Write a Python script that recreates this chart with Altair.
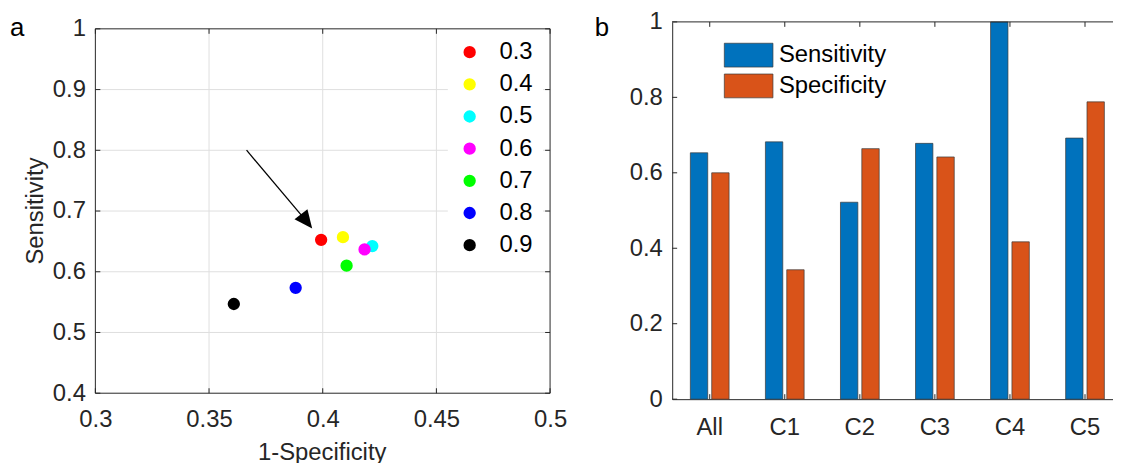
import altair as alt
import pandas as pd

# ---------------- data ----------------
thresholds = ["0.3", "0.4", "0.5", "0.6", "0.7", "0.8", "0.9"]
one_minus_specificity = [0.3993, 0.4089, 0.4218, 0.4184, 0.4105, 0.3881, 0.3609]
sensitivity_points = [0.6525, 0.6569, 0.6422, 0.6368, 0.6100, 0.5735, 0.5469]
threshold_colors = ["#ff0000", "#ffff00", "#00ffff", "#ff00ff", "#00ff00", "#0000ff", "#000000"]

arrow_x = [0.3665, 0.3929]
arrow_y = [0.8002, 0.6829]

x_ticks_a = [0.3, 0.35, 0.4, 0.45, 0.5]
y_ticks_a = [0.4, 0.5, 0.6, 0.7, 0.8, 0.9, 1.0]

groups = ["All", "C1", "C2", "C3", "C4", "C5"]
series = ["Sensitivity", "Specificity"]
sensitivity_bars = [0.653, 0.682, 0.522, 0.678, 1.0, 0.692]
specificity_bars = [0.600, 0.343, 0.664, 0.642, 0.417, 0.788]
series_colors = ["#0072BD", "#D95319"]
y_ticks_b = [0, 0.2, 0.4, 0.6, 0.8, 1]

# ---------------- style ----------------
FONT = "Liberation Sans"
TXT = "#262626"
GRID = "#dfdfdf"
FS = 24
TICK = 5

# ================= panel a =================
WA, HA = 458, 380
X0, X1 = x_ticks_a[0], x_ticks_a[-1]
Y0, Y1 = y_ticks_a[0], y_ticks_a[-1]
ya_domain = [Y0 - 6 / 612.2, Y1 + 7 / 612.2]

xs = alt.Scale(domain=[X0, X1], nice=False, zero=False)
ys = alt.Scale(domain=ya_domain, nice=False, zero=False)

AX_A = alt.Axis(values=x_ticks_a, format="~g", labelFlush=False, labelOverlap=False,
                labelPadding=9, title="1-Specificity", titleX=228, titleY=61,
                titleAlign="center", titleBaseline="alphabetic")
AY_A = alt.Axis(values=y_ticks_a, format="~g", labelFlush=False, labelOverlap=False,
                labelPadding=10, title="Sensitivity", titleX=-53, titleY=190,
                titleAngle=270, titleAlign="center", titleBaseline="alphabetic")


def XA(f):
    return alt.X(f, type="quantitative", scale=xs, axis=AX_A)


def YA(f):
    return alt.Y(f, type="quantitative", scale=ys, axis=AY_A)


vgrid = pd.DataFrame({"x": x_ticks_a[1:-1], "y0": Y0, "y1": Y1})
hgrid = pd.DataFrame({"y": y_ticks_a[1:-1], "x0": X0, "x1": X1})
vborder = pd.DataFrame({"x": [X0, X1], "y0": Y0, "y1": Y1})
hborder = pd.DataFrame({"y": [Y0, Y1], "x0": X0, "x1": X1})

grid_v = alt.Chart(vgrid).mark_rule(color=GRID, strokeWidth=1).encode(
    x=XA("x"), y=YA("y0"), y2="y1")
grid_h = alt.Chart(hgrid).mark_rule(color=GRID, strokeWidth=1).encode(
    y=YA("y"), x=XA("x0"), x2="x1")
border_v = alt.Chart(vborder).mark_rule(color=TXT, strokeWidth=1).encode(
    x=XA("x"), y=YA("y0"), y2="y1")
border_h = alt.Chart(hborder).mark_rule(color=TXT, strokeWidth=1).encode(
    y=YA("y"), x=XA("x0"), x2="x1")

tb = pd.DataFrame({"x": x_ticks_a, "y": Y0})
tt = pd.DataFrame({"x": x_ticks_a, "y": Y1})
tl = pd.DataFrame({"y": y_ticks_a, "x": X0})
tr = pd.DataFrame({"y": y_ticks_a, "x": X1})
ticks_b = alt.Chart(tb).mark_rule(color=TXT, y2Offset=-TICK).encode(x=XA("x"), y=YA("y"), y2="y")
ticks_t = alt.Chart(tt).mark_rule(color=TXT, y2Offset=TICK).encode(x=XA("x"), y=YA("y"), y2="y")
ticks_l = alt.Chart(tl).mark_rule(color=TXT, x2Offset=TICK).encode(y=YA("y"), x=XA("x"), x2="x")
ticks_r = alt.Chart(tr).mark_rule(color=TXT, x2Offset=-TICK).encode(y=YA("y"), x=XA("x"), x2="x")

arrow_df = pd.DataFrame({"x": arrow_x, "y": arrow_y, "o": [0, 1]})
arrow_line = alt.Chart(arrow_df).mark_line(color="black", strokeWidth=1.3).encode(
    x=XA("x"), y=YA("y"), order="o:Q")
head_df = pd.DataFrame({"x": arrow_x[-1:], "y": arrow_y[-1:]})
arrow_head = alt.Chart(head_df).mark_point(
    shape="M0,-1L0.9,1L-0.9,1Z", filled=True, size=338, angle=142,
    color="black", opacity=1, strokeWidth=0).encode(x=XA("x"), y=YA("y"))

pts = pd.DataFrame({"t": thresholds, "x": one_minus_specificity, "y": sensitivity_points})
points = alt.Chart(pts).mark_circle(size=154, opacity=1, strokeWidth=0).encode(
    x=XA("x"),
    y=YA("y"),
    color=alt.Color("t:N", scale=alt.Scale(domain=thresholds, range=threshold_colors),
                    legend=alt.Legend(orient="none", legendX=355, legendY=8.5, title=None,
                                      fillColor="white", padding=10, symbolType="circle",
                                      symbolSize=154, symbolStrokeWidth=0, symbolOpacity=1,
                                      labelOffset=18, rowPadding=8.4)),
)

letter_a = alt.Chart(pd.DataFrame({"lab": ["a"]})).mark_text(
    align="left", baseline="alphabetic", fontSize=26, font=FONT, color="black").encode(
    text="lab:N", x=alt.value(-86), y=alt.value(14))

panel_a = alt.layer(grid_v, grid_h, border_v, border_h, ticks_b, ticks_t, ticks_l, ticks_r,
                    arrow_line, arrow_head, points, letter_a).properties(width=WA, height=HA)

# ================= panel b =================
STEP = 75.6
WB, HB = STEP * len(groups), 380
xb = alt.Scale(domain=groups, paddingInner=0, paddingOuter=0)
yb = alt.Scale(domain=[y_ticks_b[0], y_ticks_b[-1]], nice=False, zero=True)

AX_B = alt.Axis(labelAngle=0, domain=True, domainColor=TXT, domainWidth=1,
                labelPadding=17, title=None)
AY_B = alt.Axis(values=y_ticks_b, format="~g", domain=True, domainColor=TXT,
                domainWidth=1, labelPadding=10, labelFlush=False,
                labelOverlap=False, title=None)


def XB(f):
    return alt.X(f, type="nominal", sort=groups, scale=xb, axis=AX_B)


def YB(f):
    return alt.Y(f, type="quantitative", scale=yb, axis=AY_B)


bars_df = pd.DataFrame({
    "group": groups * 2,
    "series": [series[0]] * len(groups) + [series[1]] * len(groups),
    "value": sensitivity_bars + specificity_bars,
})

bars = alt.Chart(bars_df).mark_bar(stroke="#3a3a3a", strokeWidth=0.7).encode(
    x=XB("group"),
    xOffset=alt.XOffset("series:N", sort=series,
                        scale=alt.Scale(paddingInner=0.186, paddingOuter=0.851)),
    y=YB("value"),
    color=alt.Color("series:N", scale=alt.Scale(domain=series, range=series_colors),
                    legend=alt.Legend(orient="none", legendX=65, legendY=21.5, title=None,
                                      padding=0,
                                      symbolType="M-3.0625,-1.5H3.0625V1.5H-3.0625Z",
                                      symbolSize=256, symbolStrokeColor="#3a3a3a",
                                      symbolStrokeWidth=0.7, symbolOpacity=1,
                                      labelOffset=18.5, rowPadding=3)),
)

top_b = alt.Chart(pd.DataFrame({"y": [y_ticks_b[-1]]})).mark_rule(color=TXT, strokeWidth=1).encode(
    y=YB("y"), x=alt.value(0), x2=alt.value(WB))
tb_b = alt.Chart(pd.DataFrame({"g": groups, "y": y_ticks_b[0]})).mark_rule(
    color=TXT, y2Offset=-TICK).encode(x=XB("g"), y=YB("y"), y2="y")
tt_b = alt.Chart(pd.DataFrame({"g": groups, "y": y_ticks_b[-1]})).mark_rule(
    color=TXT, y2Offset=TICK).encode(x=XB("g"), y=YB("y"), y2="y")
tl_b = alt.Chart(pd.DataFrame({"y": y_ticks_b})).mark_rule(color=TXT).encode(
    y=YB("y"), x=alt.value(0), x2=alt.value(TICK))

letter_b = alt.Chart(pd.DataFrame({"lab": ["b"]})).mark_text(
    align="left", baseline="alphabetic", fontSize=26, font=FONT, color="black").encode(
    text="lab:N", x=alt.value(-78), y=alt.value(14))

panel_b = alt.layer(bars, top_b, tb_b, tt_b, tl_b, letter_b).properties(width=WB, height=HB)

# ================= combine =================
chart = alt.hconcat(panel_a, panel_b, spacing=123, bounds="flush").resolve_scale(
    x="independent", y="independent", color="independent"
).resolve_legend(color="independent").properties(
    autosize=alt.AutoSizeParams(type="none"),
    padding={"left": 88, "top": 11, "right": 1025, "bottom": 436},
).configure_view(strokeWidth=0).configure_axis(
    labelFont=FONT, labelFontSize=FS, labelColor=TXT, titleFont=FONT, titleFontSize=FS,
    titleColor=TXT, titleFontWeight="normal", grid=False, ticks=False, domain=False,
).configure_legend(
    labelFont=FONT, labelFontSize=FS, labelColor="black",
)

chart.save("out.html", embed_options={"renderer": "svg", "actions": False})
